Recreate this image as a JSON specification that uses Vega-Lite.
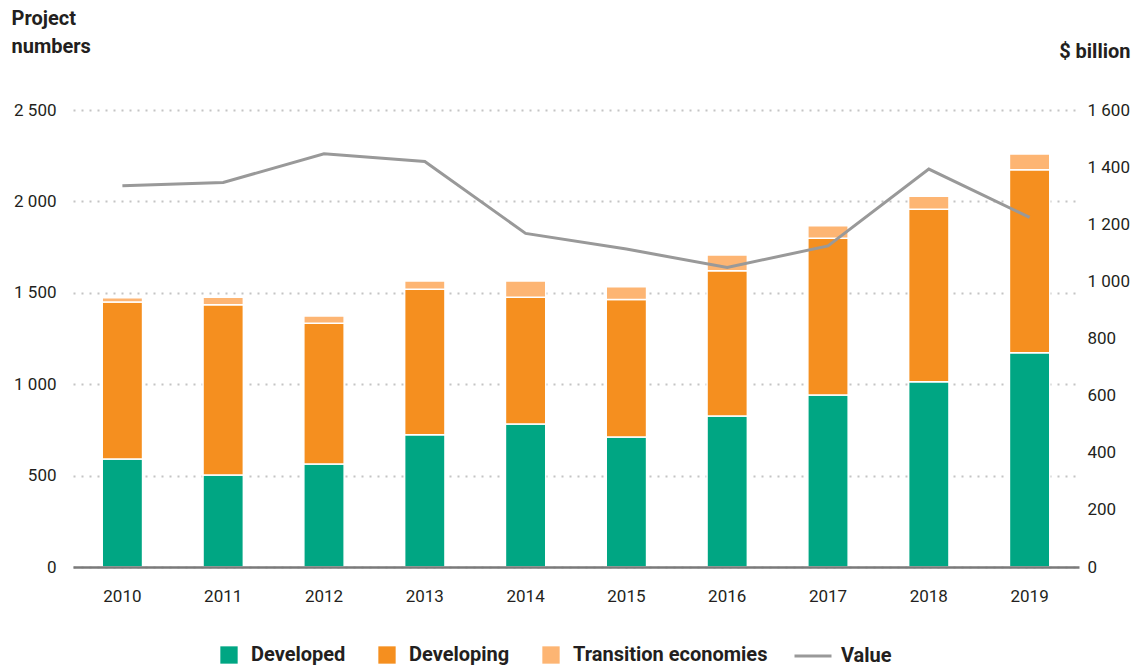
{
  "$schema": "https://vega.github.io/schema/vega-lite/v6.json",
  "width": 1006,
  "height": 457,
  "autosize": {"type": "none"},
  "padding": {"left": 73, "top": 110, "right": 55, "bottom": 99},
  "background": "white",
  "config": {
    "font": "Roboto",
    "view": {"stroke": null},
    "axis": {"labelColor": "#231f20", "titleColor": "#231f20", "ticks": false, "labelFontSize": 17},
    "legend": {"labelColor": "#231f20"}
  },
  "datasets": {
    "bars": [
      {"year": "2010", "category": "Developed", "count": 591},
      {"year": "2010", "category": "Developing", "count": 859},
      {"year": "2010", "category": "Transition economies", "count": 23},
      {"year": "2011", "category": "Developed", "count": 503},
      {"year": "2011", "category": "Developing", "count": 932},
      {"year": "2011", "category": "Transition economies", "count": 40},
      {"year": "2012", "category": "Developed", "count": 563},
      {"year": "2012", "category": "Developing", "count": 770},
      {"year": "2012", "category": "Transition economies", "count": 40},
      {"year": "2013", "category": "Developed", "count": 724},
      {"year": "2013", "category": "Developing", "count": 795},
      {"year": "2013", "category": "Transition economies", "count": 46},
      {"year": "2014", "category": "Developed", "count": 782},
      {"year": "2014", "category": "Developing", "count": 693},
      {"year": "2014", "category": "Transition economies", "count": 90},
      {"year": "2015", "category": "Developed", "count": 711},
      {"year": "2015", "category": "Developing", "count": 753},
      {"year": "2015", "category": "Transition economies", "count": 69},
      {"year": "2016", "category": "Developed", "count": 826},
      {"year": "2016", "category": "Developing", "count": 795},
      {"year": "2016", "category": "Transition economies", "count": 86},
      {"year": "2017", "category": "Developed", "count": 941},
      {"year": "2017", "category": "Developing", "count": 857},
      {"year": "2017", "category": "Transition economies", "count": 69},
      {"year": "2018", "category": "Developed", "count": 1014},
      {"year": "2018", "category": "Developing", "count": 943},
      {"year": "2018", "category": "Transition economies", "count": 71},
      {"year": "2019", "category": "Developed", "count": 1172},
      {"year": "2019", "category": "Developing", "count": 1001},
      {"year": "2019", "category": "Transition economies", "count": 86}
    ],
    "value": [
      {"year": "2010", "value": 1335},
      {"year": "2011", "value": 1346},
      {"year": "2012", "value": 1447},
      {"year": "2013", "value": 1420},
      {"year": "2014", "value": 1168},
      {"year": "2015", "value": 1113},
      {"year": "2016", "value": 1049},
      {"year": "2017", "value": 1124},
      {"year": "2018", "value": 1393},
      {"year": "2019", "value": 1224}
    ]
  },
  "layer": [
    {
      "data": {"name": "bars"},
      "mark": {"type": "bar", "stroke": "white", "strokeWidth": 1.5},
      "encoding": {
        "x": {
          "field": "year", "type": "ordinal",
          "scale": {"paddingInner": 0.6, "paddingOuter": 0.29},
          "axis": {"title": null, "labelAngle": 0, "domain": true, "domainColor": "#7a7a7a", "domainWidth": 2.5, "grid": false, "labelPadding": 21, "labelFontSize": 17, "zindex": 1}
        },
        "y": {
          "field": "count", "type": "quantitative", "stack": "zero",
          "scale": {"domain": [0, 2500], "nice": false},
          "axis": {
            "title": ["Project", "numbers"],
            "titleAngle": 0, "titleAlign": "left", "titleBaseline": "top",
            "titleX": -62, "titleY": -102, "titleFontSize": 20, "titleFontWeight": "bold", "titleLineHeight": 28,
            "values": [0, 500, 1000, 1500, 2000, 2500],
            "labelExpr": "replace(format(datum.value, ','), ',', ' ')",
            "labelPadding": 17, "domain": false,
            "grid": true, "gridColor": "#c4c4c4", "gridDash": [2, 6], "gridWidth": 2
          }
        },
        "order": {"field": "category", "sort": "ascending"},
        "color": {
          "field": "category", "type": "nominal",
          "scale": {"domain": ["Developed", "Developing", "Transition economies"], "range": ["#00a683", "#f58f1f", "#fdb573"]},
          "legend": {
            "title": null, "orient": "none", "direction": "horizontal", "legendX": 146, "legendY": 535,
            "symbolType": "square", "symbolSize": 300, "symbolStrokeWidth": 0,
            "labelFontSize": 20, "labelFontWeight": "bold", "labelOffset": 12, "columnPadding": 31, "padding": 0, "labelLimit": 400
          }
        }
      }
    },
    {
      "data": {"name": "value"},
      "mark": {"type": "line", "strokeWidth": 3},
      "encoding": {
        "x": {"field": "year", "type": "ordinal"},
        "y": {
          "field": "value", "type": "quantitative",
          "scale": {"domain": [0, 1600], "nice": false},
          "axis": {
            "orient": "right", "title": "$ billion",
            "titleAngle": 0, "titleAlign": "right", "titleBaseline": "alphabetic",
            "titleX": 51, "titleY": -53, "titleFontSize": 20, "titleFontWeight": "bold",
            "values": [0, 200, 400, 600, 800, 1000, 1200, 1400, 1600],
            "labelExpr": "replace(format(datum.value, ','), ',', ' ')",
            "labelPadding": 8, "domain": false, "grid": false
          }
        },
        "stroke": {
          "datum": "Value", "type": "nominal",
          "scale": {"domain": ["Value"], "range": ["#999999"]},
          "legend": {
            "title": null, "orient": "none", "direction": "horizontal", "legendX": 720, "legendY": 526,
            "symbolType": "stroke", "symbolSize": 1369, "symbolStrokeWidth": 3,
            "labelFontSize": 20, "labelFontWeight": "bold", "labelOffset": 8, "padding": 0, "labelLimit": 400
          }
        }
      }
    }
  ],
  "resolve": {"scale": {"y": "independent"}}
}
